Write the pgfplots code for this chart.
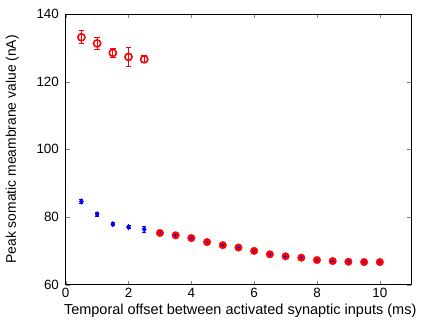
\documentclass[border=0pt]{standalone}
\usepackage{fontspec}
\setmainfont{Liberation Sans}
\usepackage{pgfplots}
\pgfplotsset{compat=1.18}
\begin{document}
\fontsize{14}{16}\selectfont
\begin{tikzpicture}
\begin{axis}[
  scale only axis,
  width=347bp, height=272bp,
  xmin=0, xmax=11, ymin=60, ymax=140,
  xtick={0,2,4,6,8,10}, ytick={60,80,100,120,140},
  tick align=inside, tick pos=both,
  major tick length=4bp,
  axis line style={black, line width=0.8pt},
  /pgf/number format/assume math mode=true,
  ticklabel style={font=\fontsize{13.5}{15}\selectfont},
  yticklabel style={xshift=-2bp},
  xticklabel style={yshift=1bp},
  label style={font=\fontsize{14}{16}\selectfont},
  xlabel={Temporal offset between activated synaptic inputs (ms)},
  ylabel={Peak somatic meambrane value (nA)},
  xlabel style={font=\fontsize{14.6}{16}\selectfont, at={(axis description cs:0.505,-0.097)}, anchor=center},
  ylabel style={at={(axis description cs:-0.155,0.5)}, anchor=center},
  clip=false,
]
\path (rel axis cs:0,0) ++(-66bp,-39bp) (rel axis cs:1,1) ++(8bp,14bp);
% blue series
\addplot[only marks, blue, mark=diamond*, mark size=2.8pt,
  error bars/.cd, y dir=both, y explicit,
  error bar style={draw=blue, line width=1pt},
  error mark options={rotate=90, mark size=2pt, draw=blue, line width=1pt}]
  coordinates {
  (0.5,84.6) +- (0,0.5)
  (1.0,80.8) +- (0,0.6)
  (1.5,77.9) +- (0,0.4)
  (2.0,77.0) +- (0,0.4)
  (2.5,76.4) +- (0,0.9)
  };
% red lower filled
\addplot[only marks, red, mark=*, mark size=3.8pt, mark options={fill=red, draw=red}]
  coordinates {
  (3.0,75.3) (3.5,74.6) (4.0,73.8) (4.5,72.6) (5.0,71.7) (5.5,71.0)
  (6.0,70.0) (6.5,69.0) (7.0,68.4) (7.5,68.0) (8.0,67.3) (8.5,67.0)
  (9.0,66.8) (9.5,66.7) (10.0,66.7)
  };
% blue points inside red
\addplot[only marks, blue, mark=+, mark size=1.3pt, line width=0.7pt]
  coordinates {
  (3.0,75.3) (3.5,74.6) (4.0,73.8) (4.5,72.6) (5.0,71.7) (5.5,71.0)
  (6.0,70.0) (6.5,69.0) (7.0,68.4) (7.5,68.0) (8.0,67.3) (8.5,67.0)
  (9.0,66.8) (9.5,66.7) (10.0,66.7)
  };
% red upper open
\addplot[only marks, color=red, mark=o, mark size=3.6pt, line width=1.6pt,
  mark options={draw=red},
  error bars/.cd, y dir=both, y explicit,
  error bar style={color=red, draw=red, line width=1pt},
  error mark options={rotate=90, mark size=2.8pt, color=red, draw=red, line width=1pt}]
  coordinates {
  (0.5,133.1) +- (0,1.9)
  (1.0,131.3) +- (0,1.8)
  (1.5,128.5) +- (0,1.3)
  (2.0,127.3) +- (0,2.8)
  (2.5,126.6) +- (0,1.0)
  };
\end{axis}
\end{tikzpicture}
\end{document}
